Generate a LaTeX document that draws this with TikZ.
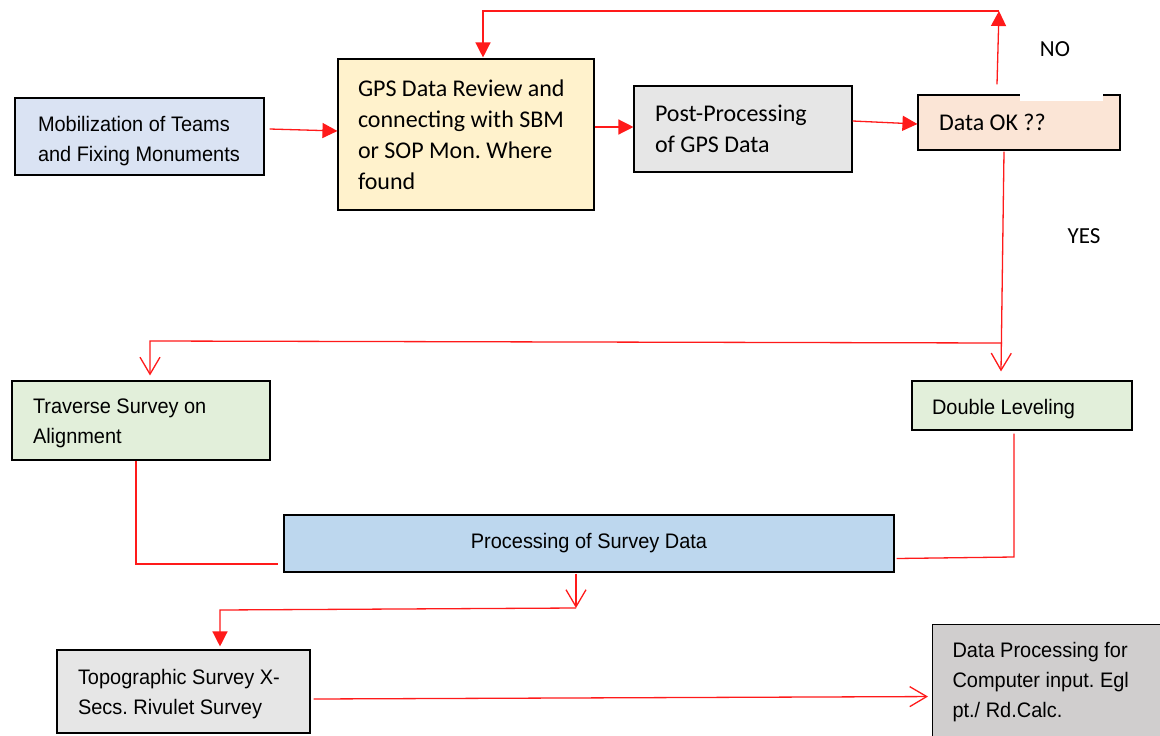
\documentclass[tikz,border=0pt]{standalone}
\usepackage{fontspec}
\setmainfont{Carlito}
\newfontfamily\arialn[FakeStretch=0.95]{Liberation Sans}
\newfontfamily\calib{Carlito}
\frenchspacing
\usetikzlibrary{arrows.meta,calc}
\definecolor{cmob}{HTML}{DAE3F3}
\definecolor{cgps}{HTML}{FFF2CC}
\definecolor{cpost}{HTML}{E6E6E6}
\definecolor{cok}{HTML}{FBE5D6}
\definecolor{cgreen}{HTML}{E2EFDA}
\definecolor{cproc}{HTML}{BDD7EE}
\definecolor{cdp}{HTML}{D0CECE}
\definecolor{cline}{HTML}{FF1A1A}
\tikzset{
  box/.style={draw=black, line width=1.1pt, rectangle, inner ysep=0pt, align=flush left},
  afont/.style={font=\arialn\frenchspacing\fontsize{21}{30}\selectfont},
  cfont/.style={font=\calib\frenchspacing\fontsize{24}{31}\selectfont},
  conn/.style={draw=cline, line width=1.3pt},
  filledtip/.style={-{Triangle[length=15pt,width=15pt]}},
  opentip/.style={-{Straight Barb[length=17pt,width=20pt,line width=1.3pt]}},
}
\begin{document}
\begin{tikzpicture}[x=1pt,y=-1pt]
\clip (0,0) rectangle (1160,736);
\fill[white] (0,0) rectangle (1160,736);
% nodes
\node[box, afont, fill=cmob, minimum width=249pt, minimum height=77pt, text width=203pt, inner xsep=23pt, text height=25pt] (mob) at (139.5,136.5) {Mobilization of Teams\\and Fixing Monuments};
\node[box, cfont, fill=cgps, minimum width=256pt, minimum height=151pt, text width=216pt, inner xsep=20pt] (gps) at (466,134.5) {GPS Data Review and\\connecting with SBM\\or SOP Mon. Where\\found};
\node[box, cfont, fill=cpost, minimum width=218pt, minimum height=86pt, text width=176pt, inner xsep=21pt] (post) at (743,129) {Post-Processing\\of GPS Data};
\node[box, cfont, fill=cok, minimum width=202pt, minimum height=55pt, text width=160pt, inner xsep=21pt] (ok) at (1019,122.5) {Data OK ??};
\node[box, afont, fill=cgreen, minimum width=258pt, minimum height=79pt, text width=216pt, inner xsep=21pt, text height=21pt] (trav) at (141,420.5) {Traverse Survey on\\Alignment};
\node[box, afont, fill=cgreen, minimum width=220pt, minimum height=49pt, text width=180pt, inner xsep=20pt, text height=23pt] (dbl) at (1022,405.5) {Double Leveling};
\node[box, afont, fill=cproc, minimum width=610pt, minimum height=57pt, text width=570pt, inner xsep=20pt, align=flush center] (proc) at (589,543.5) {Processing of Survey Data};
\node[box, afont, fill=cpost, minimum width=253pt, minimum height=83pt, text width=211pt, inner xsep=21pt, text height=21pt] (topo) at (183.5,691.5) {Topographic Survey X-\\Secs. Rivulet Survey};
\node[box, afont, fill=cdp, minimum width=233pt, minimum height=116pt, text width=193pt, inner xsep=20pt, anchor=north west] (dp) at (932,624) {Data Processing for\\Computer input. Egl\\pt./ Rd.Calc.};
% gap in the top border of "Data OK ??"
\fill[white] (1020,92) rectangle (1103,101);
% labels
\node[font=\calib\fontsize{23}{27}\selectfont, inner sep=0pt] (no) at (1055,49) {NO};
\node[font=\calib\fontsize{23}{27}\selectfont, inner sep=0pt] (yes) at (1084,236) {YES};
% bend points
\coordinate (nob) at (999,11);
\coordinate (br1) at (1002,343);
\coordinate (br2) at (150,341);
\coordinate (tb) at (136,564);
\coordinate (db) at (1014,557);
\coordinate (pc) at (576,608);
\coordinate (pl) at (220,610);
% connectors
\draw[conn, filledtip] ([xshift=5pt,yshift=7.5pt]mob.east) -- ([yshift=3.5pt]gps.west);
\draw[conn, filledtip] ([yshift=7.5pt]gps.east) -- ([yshift=2pt]post.west);
\draw[conn, filledtip] ([yshift=8pt]post.east) -- ([yshift=-1.5pt]ok.west);
\draw[conn, filledtip] ([xshift=-22pt,yshift=10pt]ok.north) -- (nob);
\draw[conn, filledtip] (nob) -| ([xshift=17pt,yshift=1pt]gps.north);
\draw[conn, opentip] ([xshift=-15pt,yshift=-1pt]ok.south) -- ([xshift=-21pt,yshift=9pt]dbl.north);
\draw[conn, opentip] (br1) -- (br2) -- ([xshift=9pt,yshift=5pt]trav.north);
\draw[conn] ([xshift=-5pt]trav.south) -- (tb) -- ([xshift=-5pt,yshift=-20.5pt]proc.west);
\draw[conn] ([xshift=-8pt,yshift=-3pt]dbl.south) -- (db) -- ([xshift=2pt,yshift=-15pt]proc.east);
\draw[conn, opentip] ([xshift=-13pt,yshift=-1pt]proc.south) -- (pc);
\draw[conn, filledtip] (pc) -- (pl) -- ([xshift=36.5pt,yshift=3pt]topo.north);
\draw[conn, opentip] ([xshift=3pt,yshift=-7.5pt]topo.east) -- ([xshift=-4pt,yshift=-14pt]dp.west);
\end{tikzpicture}
\end{document}
